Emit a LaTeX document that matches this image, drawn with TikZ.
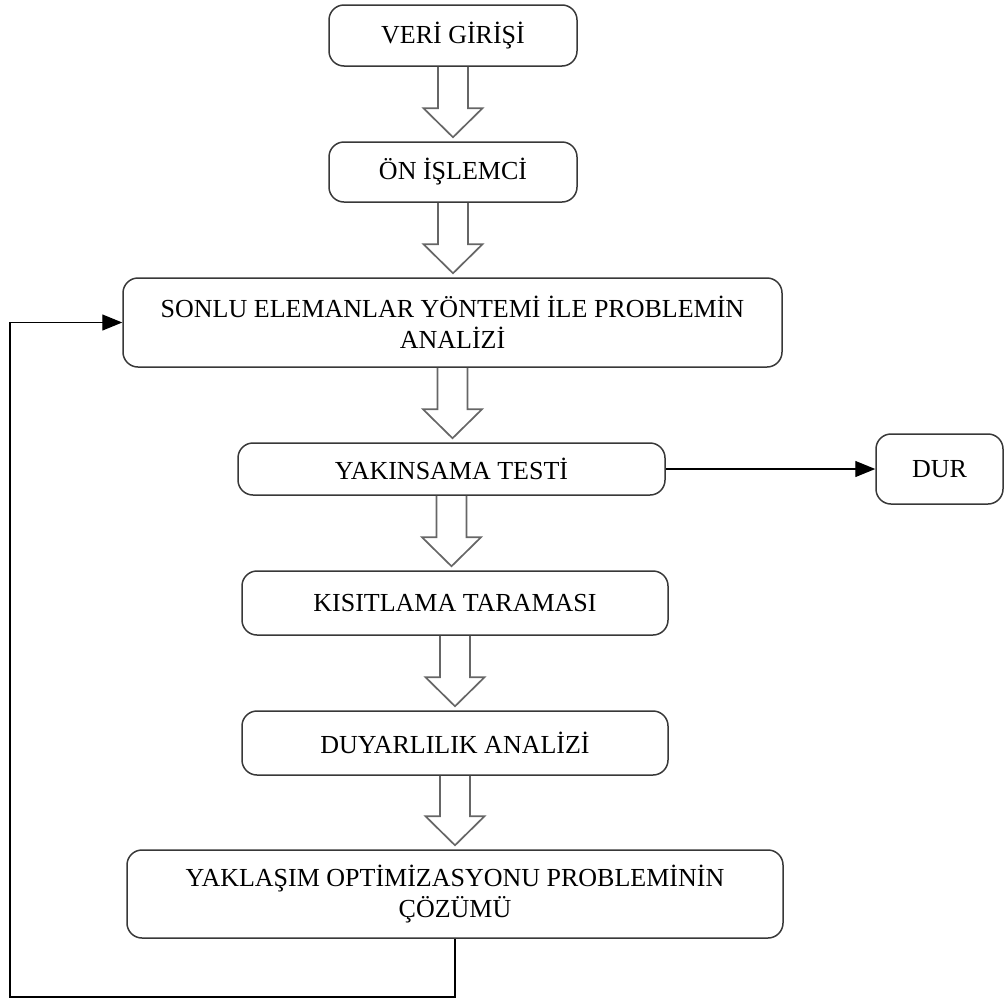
\documentclass[tikz,border=0pt]{standalone}
\usepackage{fontspec}
\setmainfont{Liberation Serif}
\usetikzlibrary{calc,arrows.meta}

% dutá bloková šipka mezi dvěma uzly
\newcommand{\hollowdown}[2]{%
  \draw[hollow] ($(#1.south)+(-15,0)$) -- ($(#1.south |- #2.north)+(-15,-33)$)
    -- ($(#1.south |- #2.north)+(-29.5,-33)$) -- ($(#1.south |- #2.north)+(0,-4)$)
    -- ($(#1.south |- #2.north)+(29.5,-33)$) -- ($(#1.south |- #2.north)+(15,-33)$)
    -- ($(#1.south)+(15,0)$);}

\begin{document}
\begin{tikzpicture}[x=1pt,y=-1pt,
    stepbox/.style={draw=black!78, line width=1.5pt, rounded corners=15pt, fill=white,
      align=center, inner sep=0pt, font=\fontsize{26}{31}\selectfont},
    hollow/.style={draw=black!60, line width=1.7pt},
    flow/.style={draw=black, line width=1.3pt, -{Triangle[length=20pt,width=16pt]}}]
    \useasboundingbox (0,0) rectangle (1006,999);

    % kroky postupu
    \node[stepbox, minimum width=248, minimum height=61] (veri) at (453,35.5) {VERİ GİRİŞİ};
    \node[stepbox, minimum width=248, minimum height=60] (onislem) at (453,172) {ÖN İŞLEMCİ};
    \node[stepbox, minimum width=659, minimum height=89] (sonlu) at (452.5,322.5)
      {SONLU ELEMANLAR YÖNTEMİ İLE PROBLEMİN\\ANALİZİ};
    \node[stepbox, minimum width=427, minimum height=52] (yakinsama) at (451.5,469) {YAKINSAMA TESTİ};
    \node[stepbox, minimum width=127, minimum height=70] (dur) at (939.5,469) {DUR};
    \node[stepbox, minimum width=426, minimum height=64] (kisit) at (455,603) {KISITLAMA TARAMASI};
    \node[stepbox, minimum width=426, minimum height=64] (duyar) at (455,743) {DUYARLILIK ANALİZİ};
    \node[stepbox, minimum width=656, minimum height=88] (yaklasim) at (455,894)
      {YAKLAŞIM OPTİMİZASYONU PROBLEMİNİN\\ÇÖZÜMÜ};

    % bloková šipky
    \hollowdown{veri}{onislem}
    \hollowdown{onislem}{sonlu}
    \hollowdown{sonlu}{yakinsama}
    \hollowdown{yakinsama}{kisit}
    \hollowdown{kisit}{duyar}
    \hollowdown{duyar}{yaklasim}

    \draw[flow] (yakinsama.east) -- (dur.west);

    % zpětná vazba
    \coordinate (zpet) at (10,997);
    \draw[flow] (yaklasim.south) |- (zpet) |- (sonlu.west);
\end{tikzpicture}
\end{document}
